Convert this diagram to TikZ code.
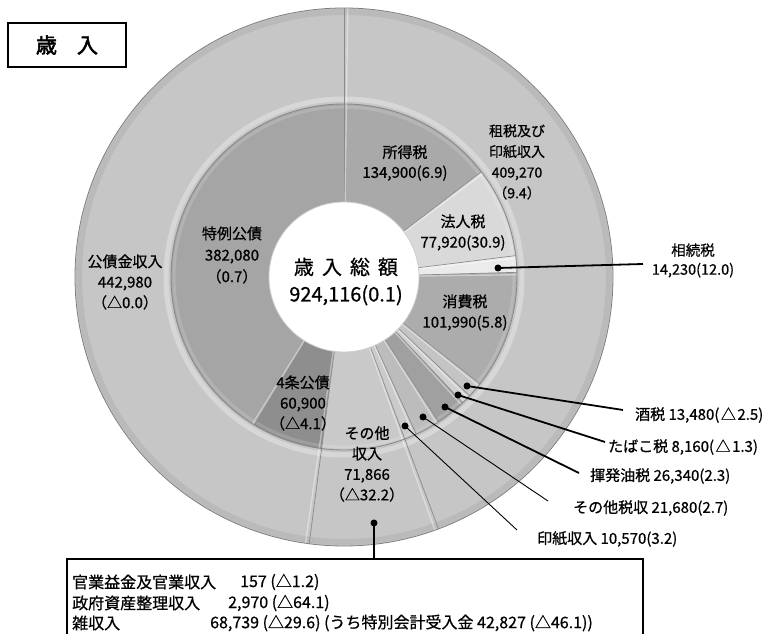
\documentclass[tikz,border=0pt]{standalone}
\usepackage{fontspec}
\setmainfont{Noto Sans CJK JP}[FakeBold=0.7]
\newfontfamily\titlefont[FakeBold=2.5]{Noto Sans CJK JP}
\definecolor{outerg}{HTML}{C6C6C6}
\definecolor{gshotoku}{HTML}{A9A9A9}
\definecolor{ghojin}{HTML}{D9D9D9}
\definecolor{gsozoku}{HTML}{EBEBEB}
\definecolor{gshohi}{HTML}{ACACAC}
\definecolor{gsake}{HTML}{C4C4C4}
\definecolor{gtabako}{HTML}{D0D0D0}
\definecolor{gkihatsu}{HTML}{A0A0A0}
\definecolor{gsonota}{HTML}{BCBCBC}
\definecolor{ginshi}{HTML}{CACACA}
\definecolor{gsonotain}{HTML}{C9C9C9}
\definecolor{gyonjo}{HTML}{8E8E8E}
\definecolor{gtokurei}{HTML}{A5A5A5}
\definecolor{sepc}{HTML}{8A8A8A}
\newcommand\ringseg[5]{%
  \pgfmathsetmacro\angA{90-#1}%
  \pgfmathsetmacro\angB{90-#2}%
  \path[#5] ([shift={(\angA:#4pt)}]C) arc[start angle=\angA, end angle=\angB, radius=#4pt]
    -- ([shift={(\angB:#3pt)}]C) arc[start angle=\angB, end angle=\angA, radius=#3pt] -- cycle;}
\newcommand\sepline[3]{%
  \pgfmathsetmacro\angA{90-#1}%
  \draw[sepc, line width=0.7pt] ([shift={(\angA:#2pt)}]C) -- ([shift={(\angA:#3pt)}]C);
  \pgfmathsetmacro\angB{90-#1-0.8}%
  \draw[white, opacity=0.4, line width=1.4pt] ([shift={(\angB:#2pt)}]C) -- ([shift={(\angB:#3pt)}]C);}
\newcommand\tri{\kern1.5pt△\kern1.5pt}
\tikzset{
  lab/.style={inner sep=0pt, align=center, font=\fontsize{15}{20.5}\selectfont},
  rlab/.style={inner sep=0pt, anchor=west, font=\fontsize{15}{17}\selectfont},
  boxtxt/.style={inner sep=0pt, anchor=west, font=\fontsize{16}{18}\selectfont},
  dot/.style={circle, fill=black, inner sep=0pt, minimum size=7pt},
  thickleader/.style={line width=1.8pt},
  thinleader/.style={line width=0.9pt},
}
\begin{document}
\begin{tikzpicture}[x=1pt,y=1pt]
\useasboundingbox (0,0) rectangle (772,634);
\fill[white] (0,0) rectangle (772,634);
\coordinate (C) at (344,357);
% outer ring
\ringseg{0}{360}{173}{269}{fill=outerg}
\draw[white, opacity=0.3, line width=5pt] (C) circle[radius=178pt];
\draw[black, opacity=0.06, line width=6pt] (C) circle[radius=265pt];
% inner ring
\ringseg{0}{52.552}{75}{173}{fill=gshotoku}
\ringseg{52.552}{82.907}{75}{173}{fill=ghojin}
\ringseg{82.907}{88.450}{75}{173}{fill=gsozoku}
\ringseg{88.450}{128.181}{75}{173}{fill=gshohi}
\ringseg{128.181}{133.433}{75}{173}{fill=gsake}
\ringseg{133.433}{136.611}{75}{173}{fill=gtabako}
\ringseg{136.611}{146.872}{75}{173}{fill=gkihatsu}
\ringseg{146.872}{155.318}{75}{173}{fill=gsonota}
\ringseg{155.318}{159.436}{75}{173}{fill=ginshi}
\ringseg{159.436}{187.432}{75}{173}{fill=gsonotain}
\ringseg{187.432}{211.156}{75}{173}{fill=gyonjo}
\ringseg{211.156}{360}{75}{173}{fill=gtokurei}
\draw[white, opacity=0.15, line width=3pt] (C) circle[radius=170pt];
% separators
\foreach \a in {0,52.552,82.907,88.450,128.181,133.433,136.611,146.872,155.318,159.436,187.432,211.156} {\sepline{\a}{75}{173}}
\foreach \a in {0,159.436,187.432} {\sepline{\a}{173}{269}}
\draw[sepc, line width=0.9pt] (C) circle[radius=173pt];
\draw[gray, line width=0.8pt] (C) circle[radius=269pt];
% hole
\fill[white] (C) circle[radius=75pt];
\draw[gray!40, line width=0.8pt] (C) circle[radius=75pt];
% title
\node[draw, line width=1.5pt, minimum width=118pt, minimum height=44pt, inner sep=0pt, font=\titlefont\fontsize{21}{21}\selectfont] (title) at (67,589) {歳\hspace{20pt}入};
% labels
\node[lab] (kosai) at (125,352) {公債金収入\\442,980\\（△0.0）};
\node[lab, font=\fontsize{15}{21.5}\selectfont] (tokurei) at (232,379) {特例公債\\382,080\\（0.7）};
\node[lab, font=\fontsize{15}{20}\selectfont] (shotoku) at (405,471) {所得税\\134,900(6.9)};
\node[lab, font=\fontsize{14}{20.7}\selectfont] (sozei) at (517,472) {租税及び\\印紙収入\\409,270\\（9.4）};
\node[lab] (hojin) at (463,401.5) {法人税\\77,920(30.9)};
\node[lab, font=\fontsize{14.5}{19}\selectfont] (sozoku) at (693,373.5) {相続税\\14,230(12.0)};
\node[lab, font=\fontsize{20}{27}\selectfont] (total) at (346,352.5) {歳\hspace{8pt}入\hspace{8pt}総\hspace{8pt}額\\924,116(0.1)};
\node[lab] (shohi) at (465,321.5) {消費税\\101,990(5.8)};
\node[lab] (yonjo) at (303,231) {4条公債\\60,900\\（△4.1）};
\node[lab] (sonotain) at (367,170) {その他\\収入\\71,866\\（△32.2）};
% right labels
\node[rlab] (sake) at (635,219) {酒税 13,480(\tri2.5)};
\node[rlab] (tabako) at (608,187) {たばこ税 8,160(\tri1.3)};
\node[rlab] (kihatsu) at (590,158) {揮発油税 26,340(2.3)};
\node[rlab] (sonotazei) at (573,126) {その他税収 21,680(2.7)};
\node[rlab] (inshi) at (537,95) {印紙収入 10,570(3.2)};
% dots and leaders
\node[dot] (dsozoku) at (498,366) {};
\node[dot] (dsake) at (467,248) {};
\node[dot] (dtabako) at (458,239) {};
\node[dot] (dkihatsu) at (445,227) {};
\node[dot] (dsonotazei) at (423,217) {};
\node[dot] (dinshi) at (405,208) {};
\node[dot] (dsonota) at (374,111) {};
\coordinate (esozoku) at (643,370);
\coordinate (esake) at (623,224);
\coordinate (etabako) at (605,192);
\coordinate (ekihatsu) at (579,161);
\coordinate (esonotazei) at (548,133);
\coordinate (einshi) at (517,104);
\coordinate (ebox) at (374,75);
\draw[thickleader] (dsozoku.center) -- (esozoku);
\draw[thickleader] (dsake.center) -- (esake);
\draw[thickleader] (dtabako.center) -- (etabako);
\draw[thickleader] (dkihatsu.center) -- (ekihatsu);
\draw[thinleader] (dsonotazei.center) -- (esonotazei);
\draw[thinleader] (dinshi.center) -- (einshi);
\draw[thickleader] (dsonota.center) -- (ebox);
% box
\draw[line width=1.5pt] (67,-10) rectangle (643,75);
\node[boxtxt] (b1) at (72,52) {官業益金及官業収入};
\node[boxtxt] (b1n) at (240,52) {157 (△1.2)};
\node[boxtxt] (b2) at (72,31) {政府資産整理収入};
\node[boxtxt] (b2n) at (228,31) {2,970 (△64.1)};
\node[boxtxt] (b3) at (72,11) {雑収入};
\node[boxtxt] (b3n) at (210,11) {68,739 (△29.6) (うち特別会計受入金 42,827 (△46.1))};
\end{tikzpicture}
\end{document}
